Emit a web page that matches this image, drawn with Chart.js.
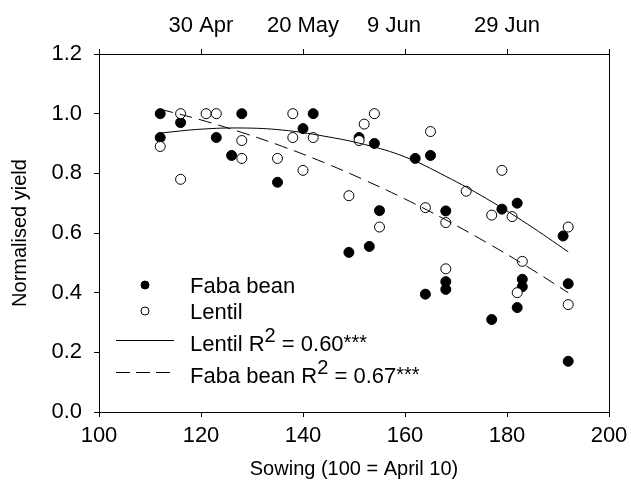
<!DOCTYPE html>
<html>
<head>
<meta charset="utf-8">
<script src="https://cdn.jsdelivr.net/npm/chart.js@4.4.1/dist/chart.umd.min.js"></script>
<style>
  html, body { margin: 0; padding: 0; background: #fff; }
  #wrap { position: relative; width: 631px; height: 489px; }
</style>
</head>
<body>
<div id="wrap"><canvas id="chart" width="631" height="489"></canvas></div>
<script>
// sowing day (100 = April 10) and normalised yield
const fabaX = [112, 112, 116, 123, 126, 128, 135, 140, 142, 149, 151, 153, 154, 155, 162,
  164, 165, 168, 168, 168, 177, 179, 182, 182, 183, 183, 191, 192, 192]
const fabaY = [1.00, 0.92, 0.97, 0.92, 0.86, 1.00, 0.77, 0.95, 1.00, 0.535, 0.92, 0.555, 0.90, 0.675, 0.85,
  0.395, 0.86, 0.674, 0.437, 0.411, 0.31, 0.68, 0.70, 0.35, 0.445, 0.42, 0.59, 0.43, 0.17]

const lentilX = [112, 116, 116, 121, 123, 128, 128, 135, 138, 138, 140, 142, 149, 151, 152,
  154, 155, 164, 165, 168, 168, 172, 177, 179, 181, 182, 183, 192, 192]
const lentilY = [0.89, 1.00, 0.78, 1.00, 1.00, 0.91, 0.85, 0.85, 1.00, 0.92, 0.81, 0.92, 0.725, 0.91, 0.965,
  1.00, 0.62, 0.685, 0.94, 0.635, 0.48, 0.74, 0.66, 0.81, 0.655, 0.40, 0.505, 0.62, 0.36]

// fitted curves
const curveX = [112, 120, 128, 136, 144, 152, 160, 168, 176, 184, 192]
const lentilFit = [0.935, 0.948, 0.952, 0.945, 0.925, 0.897, 0.855, 0.79, 0.715, 0.63, 0.537]
const fabaFit = [1.015, 0.979, 0.937, 0.890, 0.837, 0.778, 0.714, 0.644, 0.568, 0.487, 0.40]

const xTicks = [100, 120, 140, 160, 180, 200]
// '9 Jun' sits a little left of its tick in the original
const dateLabels = { 120: '30 Apr', 140: '20 May', 160: '9 Jun\u2003', 180: '29 Jun' }

const FONT = 'Arial, "Liberation Sans", sans-serif'

const pts = (xs, ys) => xs.map((x, i) => ({ x: x, y: ys[i] }))

const axisGrid = { drawOnChartArea: false, drawTicks: true, tickLength: 5, color: '#000', lineWidth: 1 }
const axisBorder = { display: true, color: '#000', width: 1 }

// keep the plot box fixed: no extra room for overhanging labels
const noOverhang = s => { s.paddingLeft = 0; s.paddingRight = 0; s.paddingTop = 0; s.paddingBottom = 0 }

// right frame line
const frameRight = {
  id: 'frameRight',
  afterDraw(chart) {
    const { ctx, chartArea } = chart
    const x = Math.round(chartArea.right) + 0.5
    ctx.save()
    ctx.strokeStyle = '#000'
    ctx.lineWidth = 1
    ctx.beginPath()
    ctx.moveTo(x, chartArea.top)
    ctx.lineTo(x, chartArea.bottom)
    ctx.stroke()
    ctx.restore()
  }
}

// text with raised parts (R^2, ***)
function richText(ctx, parts, x, y) {
  parts.forEach(p => {
    ctx.font = (p.sup ? '20px ' : '22px ') + FONT
    ctx.fillText(p.t, x, y - (p.rise || 0))
    x += ctx.measureText(p.t).width
  })
}

// legend drawn inside the plot, bottom-left
const insideLegend = {
  id: 'insideLegend',
  afterDatasetsDraw(chart) {
    const { ctx, chartArea } = chart
    const L = chartArea.left
    ctx.save()
    ctx.fillStyle = '#000'
    ctx.strokeStyle = '#000'
    ctx.lineWidth = 1
    ctx.textBaseline = 'alphabetic'
    ctx.textAlign = 'left'

    ctx.beginPath()
    ctx.arc(L + 46, 285, 4, 0, Math.PI * 2)
    ctx.fill()
    ctx.stroke()
    richText(ctx, [{ t: 'Faba bean' }], L + 91, 293)

    ctx.beginPath()
    ctx.arc(L + 46, 311, 4, 0, Math.PI * 2)
    ctx.fillStyle = '#fff'
    ctx.fill()
    ctx.stroke()
    ctx.fillStyle = '#000'
    richText(ctx, [{ t: 'Lentil' }], L + 91, 319)

    ctx.beginPath()
    ctx.moveTo(L + 17, 340.5)
    ctx.lineTo(L + 75, 340.5)
    ctx.stroke()
    richText(ctx, [{ t: 'Lentil R' }, { t: '2', sup: true, rise: 9 }, { t: ' = 0.60' }, { t: '***', sup: true, rise: 2 }], L + 91, 351)

    ctx.setLineDash([14, 6])
    ctx.beginPath()
    ctx.moveTo(L + 17, 372.5)
    ctx.lineTo(L + 72, 372.5)
    ctx.stroke()
    ctx.setLineDash([])
    richText(ctx, [{ t: 'Faba bean R' }, { t: '2', sup: true, rise: 9 }, { t: ' = 0.67' }, { t: '***', sup: true, rise: 2 }], L + 91, 383)
    ctx.restore()
  }
}

new Chart(document.getElementById('chart'), {
  type: 'scatter',
  data: {
    datasets: [
      {
        label: 'Lentil fit',
        data: pts(curveX, lentilFit),
        showLine: true,
        borderColor: '#000',
        borderWidth: 1,
        pointRadius: 0,
        tension: 0.4,
        order: -1
      },
      {
        label: 'Faba bean fit',
        data: pts(curveX, fabaFit),
        showLine: true,
        borderColor: '#000',
        borderWidth: 1,
        borderDash: [13, 7],
        pointRadius: 0,
        tension: 0.4,
        order: -1
      },
      {
        label: 'Lentil',
        data: pts(lentilX, lentilY),
        pointRadius: 5,
        pointBackgroundColor: '#fff',
        pointBorderColor: '#000',
        pointBorderWidth: 1,
        order: 0
      },
      {
        label: 'Faba bean',
        data: pts(fabaX, fabaY),
        pointRadius: 5,
        pointBackgroundColor: '#000',
        pointBorderColor: '#000',
        pointBorderWidth: 1,
        order: 1
      }
    ]
  },
  options: {
    responsive: false,
    animation: false,
    devicePixelRatio: 1,
    events: [],
    layout: { padding: { left: 0, right: 22, top: 0, bottom: 0 } },
    plugins: { legend: { display: false }, tooltip: { enabled: false } },
    scales: {
      x: {
        type: 'linear',
        position: 'bottom',
        min: 100,
        max: 200,
        afterBuildTicks: s => { s.ticks = xTicks.map(v => ({ value: v })) },
        ticks: { color: '#000', font: { family: FONT, size: 22 }, padding: 6, maxRotation: 0 },
        grid: axisGrid,
        border: axisBorder,
        title: { display: true, text: 'Sowing (100 = April 10)', color: '#000', font: { family: FONT, size: 20 }, padding: { top: 0, bottom: 8 } },
        afterFit: s => { s.height = 77; noOverhang(s) }
      },
      x2: {
        type: 'linear',
        position: 'top',
        min: 100,
        max: 200,
        afterBuildTicks: s => { s.ticks = xTicks.map(v => ({ value: v })) },
        ticks: { color: '#000', font: { family: FONT, size: 22 }, padding: 10, maxRotation: 0,
          callback: v => dateLabels[v] || '' },
        grid: axisGrid,
        border: axisBorder,
        afterFit: s => { s.height = 54; noOverhang(s) }
      },
      y: {
        type: 'linear',
        position: 'left',
        min: 0,
        max: 1.2,
        ticks: { stepSize: 0.2, color: '#000', font: { family: FONT, size: 22 }, padding: 12,
          callback: v => v.toFixed(1) },
        grid: axisGrid,
        border: axisBorder,
        title: { display: true, text: 'Normalised yield', color: '#000', font: { family: FONT, size: 20 }, padding: { top: 8, bottom: 0 } },
        afterFit: s => { s.width = 99; noOverhang(s) }
      }
    }
  },
  plugins: [frameRight, insideLegend]
})
</script>
</body>
</html>
